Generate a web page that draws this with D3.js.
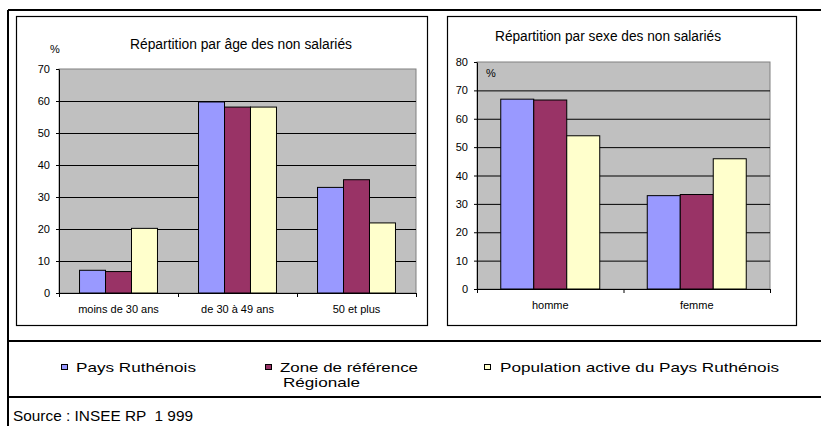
<!DOCTYPE html>
<html>
<head>
<meta charset="utf-8">
<script src="https://cdn.jsdelivr.net/npm/d3@7"></script>
<style>
  body { margin: 0; background: #fff; }
  text { font-family: "Liberation Sans", Arial, sans-serif; fill: #000; }
</style>
</head>
<body>
<div id="chart--wrapper"></div>
<script>
// data
var ageCats = ["moins de 30 ans", "de 30 à 49 ans", "50 et plus"];
var sexCats = ["homme", "femme"];
var seriesNames = ["Pays Ruthénois", "Zone de référence", "Population active du Pays Ruthénois"];
var ageRuthenois = [7.1, 59.7, 33.0];
var ageZone = [6.7, 58.1, 35.4];
var agePopActive = [20.2, 58.1, 21.9];
var sexRuthenois = [66.9, 32.9];
var sexZone = [66.6, 33.3];
var sexPopActive = [54.0, 45.9];
var ageTicks = [0, 10, 20, 30, 40, 50, 60, 70];
var sexTicks = [0, 10, 20, 30, 40, 50, 60, 70, 80];
var colors = ["#9999ff", "#993366", "#ffffcc"];

var svg = d3.select("#chart--wrapper").append("svg")
  .attr("width", 821).attr("height", 426);

// outer frame
svg.append("line").attr("x1", 8).attr("y1", 10).attr("x2", 821).attr("y2", 10)
  .attr("stroke", "#000").attr("stroke-width", 2);
svg.append("line").attr("x1", 8).attr("y1", 10).attr("x2", 8).attr("y2", 426)
  .attr("stroke", "#000").attr("stroke-width", 2);
svg.append("line").attr("x1", 8).attr("y1", 341).attr("x2", 821).attr("y2", 341)
  .attr("stroke", "#000").attr("stroke-width", 2);
svg.append("line").attr("x1", 8).attr("y1", 397).attr("x2", 821).attr("y2", 397)
  .attr("stroke", "#000").attr("stroke-width", 2);

function drawChart(cfg) {
  var g = svg.append("g");
  g.append("rect")
    .attr("x", cfg.box[0] + 0.5).attr("y", cfg.box[1] + 0.5)
    .attr("width", cfg.box[2] - cfg.box[0]).attr("height", cfg.box[3] - cfg.box[1])
    .attr("fill", "#fff").attr("stroke", "#000").attr("stroke-width", 1.2);

  var left = cfg.plot[0], top = cfg.plot[1], right = cfg.plot[2], bottom = cfg.plot[3];
  var y = d3.scaleLinear().domain([0, d3.max(cfg.ticks)]).range([bottom, top]);
  var x0 = d3.scaleBand().domain(cfg.cats).range([left, right]).padding(0);
  var x1 = d3.scaleBand().domain(seriesNames).range([0, x0.bandwidth()])
    .paddingInner(0).paddingOuter(cfg.outerPad);

  g.append("rect").attr("x", left).attr("y", top)
    .attr("width", right - left).attr("height", bottom - top)
    .attr("fill", "#c0c0c0").attr("stroke", "#808080").attr("stroke-width", 1);

  // gridlines
  g.append("g").attr("transform", "translate(" + left + ",0)")
    .call(d3.axisLeft(y).tickValues(cfg.ticks.slice(1, -1)).tickSize(-(right - left)).tickFormat(""))
    .call(function (s) { s.select(".domain").remove(); })
    .selectAll("line").attr("stroke", "#000");

  // bars
  cfg.cats.forEach(function (c, i) {
    cfg.values.forEach(function (vals, k) {
      g.append("rect")
        .attr("x", x0(c) + x1(seriesNames[k]))
        .attr("y", y(vals[i]))
        .attr("width", x1.bandwidth())
        .attr("height", y(0) - y(vals[i]))
        .attr("fill", colors[k])
        .attr("stroke", "#000").attr("stroke-width", 1);
    });
  });

  // y axis
  var ya = g.append("g").attr("transform", "translate(" + left + ",0)")
    .call(d3.axisLeft(y).tickValues(cfg.ticks).tickSize(3).tickPadding(6).tickSizeOuter(0));
  ya.selectAll("text").attr("font-size", 11).style("font-family", "'Liberation Sans', Arial, sans-serif");

  // x axis tick marks at category boundaries
  var xi = d3.scaleLinear().domain([0, cfg.cats.length]).range([left, right]);
  g.append("g").attr("transform", "translate(0," + bottom + ")")
    .call(d3.axisBottom(xi).tickValues(d3.range(cfg.cats.length + 1)).tickSize(4).tickFormat("").tickSizeOuter(0));
  var xa = g.append("g").attr("transform", "translate(0," + bottom + ")")
    .call(d3.axisBottom(x0).tickSize(0).tickPadding(12));
  xa.select(".domain").remove();
  xa.selectAll("text").attr("font-size", 11).style("font-family", "'Liberation Sans', Arial, sans-serif");

  g.append("text").attr("x", cfg.titlePos[0]).attr("y", cfg.titlePos[1])
    .attr("text-anchor", "middle").attr("font-size", 14)
    .attr("textLength", cfg.titleW).attr("lengthAdjust", "spacingAndGlyphs")
    .text(cfg.title);
  g.append("text").attr("x", cfg.pctPos[0]).attr("y", cfg.pctPos[1])
    .attr("font-size", 11).text("%");
}

drawChart({
  box: [16, 16, 427, 325],
  plot: [59, 69, 416, 293],
  cats: ageCats,
  values: [ageRuthenois, ageZone, agePopActive],
  ticks: ageTicks,
  outerPad: 0.79,
  title: "Répartition par âge des non salariés",
  titleW: 222,
  titlePos: [241, 49],
  pctPos: [50, 53]
});

drawChart({
  box: [447, 16, 796, 325],
  plot: [477, 62, 770, 289],
  cats: sexCats,
  values: [sexRuthenois, sexZone, sexPopActive],
  ticks: sexTicks,
  outerPad: 0.72,
  title: "Répartition par sexe des non salariés",
  titleW: 226,
  titlePos: [608, 41],
  pctPos: [486, 77]
});

// legend
var legendItems = [
  { x: 61, tx: 76, w: 120, label: seriesNames[0] },
  { x: 265, tx: 280, w: 138, label: seriesNames[1], sub: "Régionale", subx: 283, subw: 77 },
  { x: 484, tx: 500, w: 279, label: seriesNames[2] }
];
legendItems.forEach(function (d, k) {
  svg.append("rect").attr("x", d.x + 0.5).attr("y", 364.5).attr("width", 6).attr("height", 5)
    .attr("fill", colors[k]).attr("stroke", "#000").attr("stroke-width", 1);
  svg.append("text").attr("x", d.tx).attr("y", 371.5).attr("font-size", 13.5)
    .attr("textLength", d.w).attr("lengthAdjust", "spacingAndGlyphs").text(d.label);
  if (d.sub) {
    svg.append("text").attr("x", d.subx).attr("y", 386.5).attr("font-size", 13.5)
      .attr("textLength", d.subw).attr("lengthAdjust", "spacingAndGlyphs").text(d.sub);
  }
});

svg.append("text").attr("x", 13).attr("y", 421).attr("font-size", 15)
  .style("font-family", "'Liberation Sans Narrow', 'Arial Narrow', 'Liberation Sans', sans-serif")
  .attr("textLength", 180).attr("lengthAdjust", "spacingAndGlyphs")
  .style("white-space", "pre")
  .text("Source : INSEE RP  1 999");
</script>
</body>
</html>
